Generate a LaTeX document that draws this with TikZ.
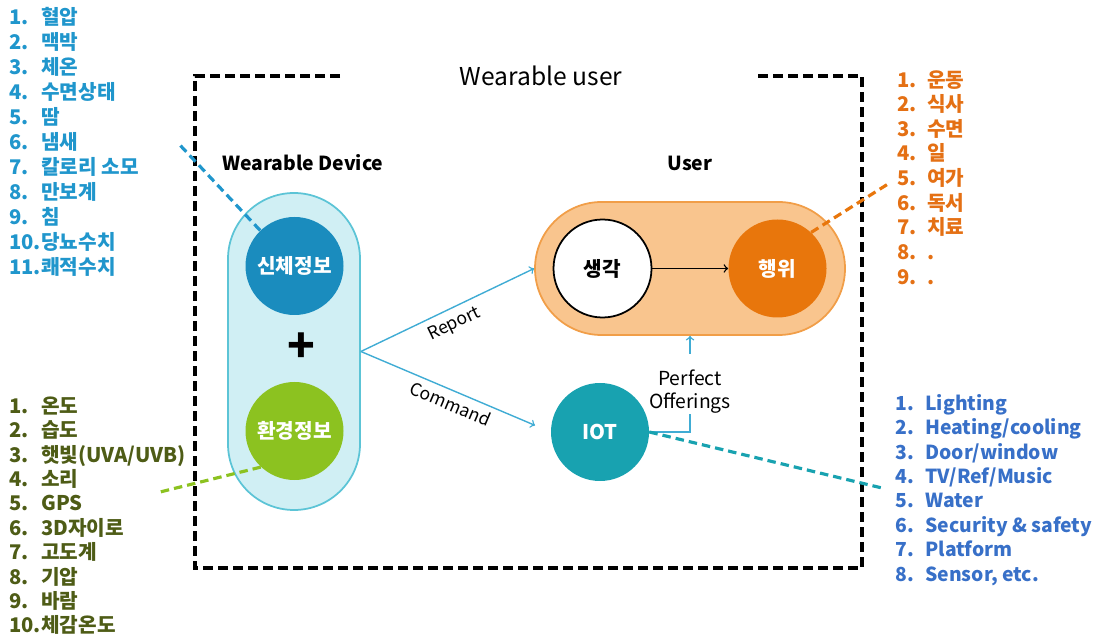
\documentclass[tikz,border=0pt]{standalone}
\usepackage{fontspec}
\setmainfont{Noto Sans CJK KR}
\usetikzlibrary{positioning}

\definecolor{bodyblue}{RGB}{26,140,190}
\definecolor{envgreen}{RGB}{140,194,32}
\definecolor{pillcyan}{RGB}{208,239,244}
\definecolor{pilledge}{RGB}{92,196,214}
\definecolor{userfill}{RGB}{249,197,142}
\definecolor{useredge}{RGB}{241,158,72}
\definecolor{actorange}{RGB}{232,118,12}
\definecolor{iotteal}{RGB}{24,162,176}
\definecolor{linkblue}{RGB}{64,172,212}
\definecolor{listblue}{RGB}{32,150,204}
\definecolor{listolive}{RGB}{78,92,22}
\definecolor{listorange}{RGB}{228,112,20}
\definecolor{listroyal}{RGB}{56,112,200}

\tikzset{
  frame/.style={line width=1.8pt, dash pattern=on 0.2cm off 0.1cm},
  dot/.style={circle, minimum size=1.96cm, inner sep=0pt, text=white, font=\bfseries\fontsize{11.5}{13}\selectfont},
  link/.style={->, linkblue, line width=0.8pt},
  lead/.style={line width=1.8pt, dash pattern=on 0.17cm off 0.1cm},
  item/.style={anchor=west, inner sep=0pt, text height=1.7ex, text depth=0.4ex, font=\bfseries\fontsize{11.5}{14}\selectfont},
  itemlatin/.style={item, font=\bfseries\fontsize{11}{13}\selectfont},
}

\begin{document}
\begin{tikzpicture}

\useasboundingbox (0,0) rectangle (21.92,12.76);

% outer frame with its title
\node[font=\fontsize{14}{16}\selectfont] (title) at (10.82,11.24) {Wearable user};
\draw[frame] (6.8,11.24) -- (3.9,11.24) -- (3.9,1.4) -- (17.24,1.4) -- (17.24,11.24) -- (15.14,11.24);

% device side
\node[draw=pilledge, fill=pillcyan, line width=1pt, rounded corners=1.32cm,
      minimum width=2.64cm, minimum height=6.34cm] (devpill) at (5.88,5.73) {};
\node[font=\bfseries\fontsize{11}{13}\selectfont] (devlabel) at (6.06,9.5) {Wearable Device};
\node[dot, fill=bodyblue] (body) at (5.89,7.44) {신체정보};
\node[dot, fill=envgreen] (env) at (5.89,4.14) {환경정보};
\node[font=\bfseries\fontsize{26}{26}\selectfont] (plus) at (6.02,5.8) {+};

% user side
\node[draw=useredge, fill=userfill, line width=1pt, rounded corners=1.33cm,
      minimum width=6.2cm, minimum height=2.66cm] (userpill) at (13.8,7.39) {};
\node[font=\bfseries\fontsize{11}{13}\selectfont] (userlabel) at (13.8,9.5) {User};
\node[dot, draw=black, fill=white, text=black, line width=1pt] (think) at (12.05,7.39) {생각};
\node[dot, fill=actorange] (act) at (15.55,7.39) {행위};
\draw[->, line width=0.8pt] (think) -- (act);

\node[dot, fill=iotteal] (iot) at (12.0,4.12) {IOT};
\node[align=center, inner sep=0pt, font=\fontsize{11}{13}\selectfont] (offer) at (13.8,4.92) {Perfect\\Offerings};

\draw[link] (devpill.east) -- node[sloped, below=3pt, inner sep=1pt, black, font=\fontsize{10}{12}\selectfont] {Report} (userpill.west);
\draw[link, shorten >=0.34cm] (devpill.east) -- node[sloped, below=2pt, inner sep=1pt, black, font=\fontsize{10}{12}\selectfont] {Command} (iot.west);
\draw[linkblue, line width=0.8pt] (iot.east) -| (offer.south);
\draw[link] ([yshift=0.32cm]offer.north) -- (userpill.south);

% dashed leads to the lists
\coordinate (bodyend) at (3.56,9.9);
\coordinate (envend) at (3.2,2.92);
\coordinate (actend) at (17.76,9.08);
\coordinate (iotend) at (17.64,3.0);
\draw[lead, listblue] (body.134) -- (bodyend);
\draw[lead, envgreen] (env.227) -- (envend);
\draw[lead, actorange] (act.47) -- (actend);
\draw[lead, iotteal] (iot.east) -- (iotend);

% lists
\foreach \txt [count=\i] in {혈압,맥박,체온,수면상태,땀,냄새,칼로리 소모,만보계,침,당뇨수치,쾌적수치}{
  \node[item, listblue] (bodynum\i) at (0.18,{12.4-0.5*(\i-1)}) {\i.};
  \node[item, listblue] (bodyitem\i) at (0.82,{12.4-0.5*(\i-1)}) {\txt};
}
\foreach \txt [count=\i] in {온도,습도,햇빛(UVA/UVB),소리,GPS,3D자이로,고도계,기압,바람,체감온도}{
  \node[item, listolive] (envnum\i) at (0.18,{4.62-0.488*(\i-1)}) {\i.};
  \node[item, listolive] (envitem\i) at (0.82,{4.62-0.488*(\i-1)}) {\txt};
}
\foreach \txt [count=\i] in {운동,식사,수면,일,여가,독서,치료,.,.}{
  \node[item, listorange] (actnum\i) at (17.94,{11.14-0.492*(\i-1)}) {\i.};
  \node[item, listorange] (actitem\i) at (18.54,{11.14-0.492*(\i-1)}) {\txt};
}
\foreach \txt [count=\i] in {Lighting,Heating/cooling,Door/window,TV/Ref/Music,Water,Security \& safety,Platform,{Sensor, etc.}}{
  \node[itemlatin, listroyal] (iotnum\i) at (17.9,{4.68-0.488*(\i-1)}) {\i.};
  \node[itemlatin, listroyal] (iotitem\i) at (18.5,{4.68-0.488*(\i-1)}) {\txt};
}

\end{tikzpicture}
\end{document}
